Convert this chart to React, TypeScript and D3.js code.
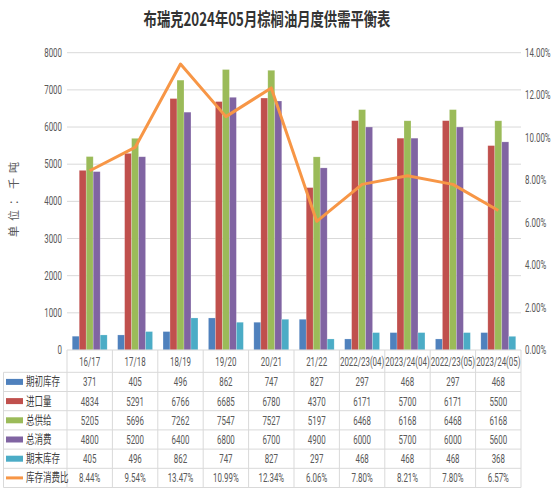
import * as d3 from 'd3';
import React, { useEffect, useRef } from 'react';

const categories = ['16/17', '17/18', '18/19', '19/20', '20/21', '21/22', '2022/23(04)', '2023/24(04)', '2022/23(05)', '2023/24(05)'];
const beginStock = [371, 405, 496, 862, 747, 827, 297, 468, 297, 468];
const imports = [4834, 5291, 6766, 6685, 6780, 4370, 6171, 5700, 6171, 5500];
const supply = [5205, 5696, 7262, 7547, 7527, 5197, 6468, 6168, 6468, 6168];
const consumption = [4800, 5200, 6400, 6800, 6700, 4900, 6000, 5700, 6000, 5600];
const endStock = [405, 496, 862, 747, 827, 297, 468, 468, 468, 368];
const stockRatio = [8.44, 9.54, 13.47, 10.99, 12.34, 6.06, 7.8, 8.21, 7.8, 6.57];
const leftTicks = [0, 1000, 2000, 3000, 4000, 5000, 6000, 7000, 8000];
const rightTicks = [0, 2, 4, 6, 8, 10, 12, 14];

const barSeries = [
  { name: '期初库存', values: beginStock, color: '#4F81BD' },
  { name: '进口量', values: imports, color: '#C0504D' },
  { name: '总供给', values: supply, color: '#9BBB59' },
  { name: '总消费', values: consumption, color: '#8064A2' },
  { name: '期末库存', values: endStock, color: '#4BACC6' },
];
const lineSeries = { name: '库存消费比', values: stockRatio, color: '#F79646' };

const width = 553;
const height = 499;
const margin = { top: 52.7, right: 32, bottom: 149, left: 67 };
const legendLeft = 3.5;
const headerH = 22.3;
const rowH = 19.2;
const numFont = 'Roboto, sans-serif';
const cjkFont = '"Noto Sans CJK SC", sans-serif';
const squeeze = 0.66; // the source picture is narrow, text is condensed
const gridColor = '#d9d9d9';
const textColor = '#595959';

const App: React.FC = () => {
  const ref = useRef<SVGSVGElement>(null);
  useEffect(() => {
    document.body.style.margin = '0';
    const svg = d3.select(ref.current);
    svg.selectAll('*').remove();

    const at = (px: number, py: number, sx = squeeze) => `translate(${px},${py}) scale(${sx},1)`;

    const plotBottom = height - margin.bottom;
    const plotRight = width - margin.right;
    const x = d3.scaleBand<string>().domain(categories).range([margin.left, plotRight]);
    const x1 = d3
      .scaleBand<string>()
      .domain(barSeries.map((s) => s.name))
      .range([0, x.bandwidth()])
      .paddingOuter(0.75);
    const y = d3.scaleLinear().domain([0, 8000]).range([plotBottom, margin.top]);
    const y2 = d3.scaleLinear().domain([0, 14]).range([plotBottom, margin.top]);
    const cx = (c: string) => (x(c) || 0) + x.bandwidth() / 2;

    svg.append('rect').attr('width', width).attr('height', height).attr('fill', '#fff');

    // title
    svg
      .append('text')
      .attr('transform', at(267, 26, 0.74))
      .attr('text-anchor', 'middle')
      .attr('font-family', cjkFont)
      .attr('font-weight', 'bold')
      .attr('font-size', 18)
      .attr('fill', '#333')
      .text('布瑞克2024年05月棕榈油月度供需平衡表');

    // gridlines
    svg
      .append('g')
      .selectAll('line')
      .data(leftTicks.filter((t) => t > 0))
      .join('line')
      .attr('x1', margin.left)
      .attr('x2', plotRight)
      .attr('y1', (d) => y(d))
      .attr('y2', (d) => y(d))
      .attr('stroke', gridColor)
      .attr('stroke-width', 1);

    // left axis
    svg
      .append('g')
      .selectAll('text')
      .data(leftTicks)
      .join('text')
      .attr('transform', (d) => at(62, y(d) + 4))
      .attr('text-anchor', 'end')
      .attr('font-family', numFont)
      .attr('font-size', 12)
      .attr('fill', textColor)
      .text((d) => d);

    // right axis
    svg
      .append('g')
      .selectAll('text')
      .data(rightTicks)
      .join('text')
      .attr('transform', (d) => at(525, y2(d) + 4))
      .attr('font-family', numFont)
      .attr('font-size', 12)
      .attr('fill', textColor)
      .text((d) => d3.format('.2f')(d) + '%');

    // y title
    svg
      .append('text')
      .attr('transform', 'translate(18,197) rotate(-90)')
      .attr('text-anchor', 'middle')
      .attr('font-family', cjkFont)
      .attr('font-size', 11)
      .attr('letter-spacing', 5)
      .attr('fill', textColor)
      .text('单位：千吨');

    // bars
    const groups = svg
      .append('g')
      .selectAll('g')
      .data(categories)
      .join('g')
      .attr('transform', (d) => `translate(${x(d)},0)`);
    groups
      .selectAll('rect')
      .data((_, i) => barSeries.map((s) => ({ name: s.name, color: s.color, value: s.values[i] })))
      .join('rect')
      .attr('x', (d) => x1(d.name) || 0)
      .attr('width', x1.bandwidth())
      .attr('y', (d) => y(d.value))
      .attr('height', (d) => plotBottom - y(d.value))
      .attr('fill', (d) => d.color)
      .attr('stroke', '#fff')
      .attr('stroke-opacity', 0.35)
      .attr('stroke-width', 0.6);

    // line
    const line = d3
      .line<number>()
      .x((_, i) => cx(categories[i]))
      .y((d) => y2(d));
    svg
      .append('path')
      .datum(lineSeries.values)
      .attr('fill', 'none')
      .attr('stroke', lineSeries.color)
      .attr('stroke-width', 3)
      .attr('stroke-linejoin', 'round')
      .attr('d', line);

    // data table
    const table = svg.append('g');
    const rowsTop = plotBottom + headerH;
    const tableBottom = rowsTop + rowH * (barSeries.length + 1);
    table
      .append('line')
      .attr('x1', margin.left)
      .attr('x2', plotRight)
      .attr('y1', plotBottom)
      .attr('y2', plotBottom)
      .attr('stroke', gridColor);
    table
      .selectAll('line.h')
      .data(d3.range(barSeries.length + 2))
      .join('line')
      .attr('class', 'h')
      .attr('x1', legendLeft)
      .attr('x2', plotRight)
      .attr('y1', (i) => rowsTop + i * rowH)
      .attr('y2', (i) => rowsTop + i * rowH)
      .attr('stroke', gridColor);
    table
      .selectAll('line.v')
      .data(categories.map((c) => x(c) || 0).concat([plotRight]))
      .join('line')
      .attr('class', 'v')
      .attr('x1', (d) => d)
      .attr('x2', (d) => d)
      .attr('y1', plotBottom)
      .attr('y2', tableBottom)
      .attr('stroke', gridColor);
    table
      .append('line')
      .attr('x1', legendLeft)
      .attr('x2', legendLeft)
      .attr('y1', rowsTop)
      .attr('y2', tableBottom)
      .attr('stroke', gridColor);

    // category labels
    table
      .selectAll('text.cat')
      .data(categories)
      .join('text')
      .attr('class', 'cat')
      .attr('transform', (d) => at(cx(d), plotBottom + headerH / 2 + 4.5))
      .attr('text-anchor', 'middle')
      .attr('font-family', numFont)
      .attr('font-size', 12)
      .attr('fill', textColor)
      .text((d) => d);

    const rows = barSeries
      .map((s) => ({ name: s.name, color: s.color, kind: 'bar', labels: s.values.map((v) => String(v)) }))
      .concat([
        {
          name: lineSeries.name,
          color: lineSeries.color,
          kind: 'line',
          labels: lineSeries.values.map((v) => d3.format('.2f')(v) + '%'),
        },
      ]);
    rows.forEach((r, ri) => {
      const cy = rowsTop + ri * rowH + rowH / 2;
      if (r.kind === 'bar') {
        table.append('rect').attr('x', 6).attr('y', cy - 3).attr('width', 17).attr('height', 6).attr('fill', r.color);
      } else {
        table
          .append('line')
          .attr('x1', 6)
          .attr('x2', 23)
          .attr('y1', cy)
          .attr('y2', cy)
          .attr('stroke', r.color)
          .attr('stroke-width', 3);
      }
      table
        .append('text')
        .attr('transform', at(26, cy + 4.5, 0.68))
        .attr('font-family', cjkFont)
        .attr('font-size', 12.5)
        .attr('fill', '#404040')
        .text(r.name);
      table
        .append('g')
        .selectAll('text')
        .data(r.labels)
        .join('text')
        .attr('transform', (_, i) => at(cx(categories[i]), cy + 4.5))
        .attr('text-anchor', 'middle')
        .attr('font-family', numFont)
        .attr('font-size', 12)
        .attr('fill', textColor)
        .text((d) => d);
    });
  }, []);
  return <svg ref={ref} width={width} height={height} style={{ display: 'block' }}></svg>;
};

export default App;
